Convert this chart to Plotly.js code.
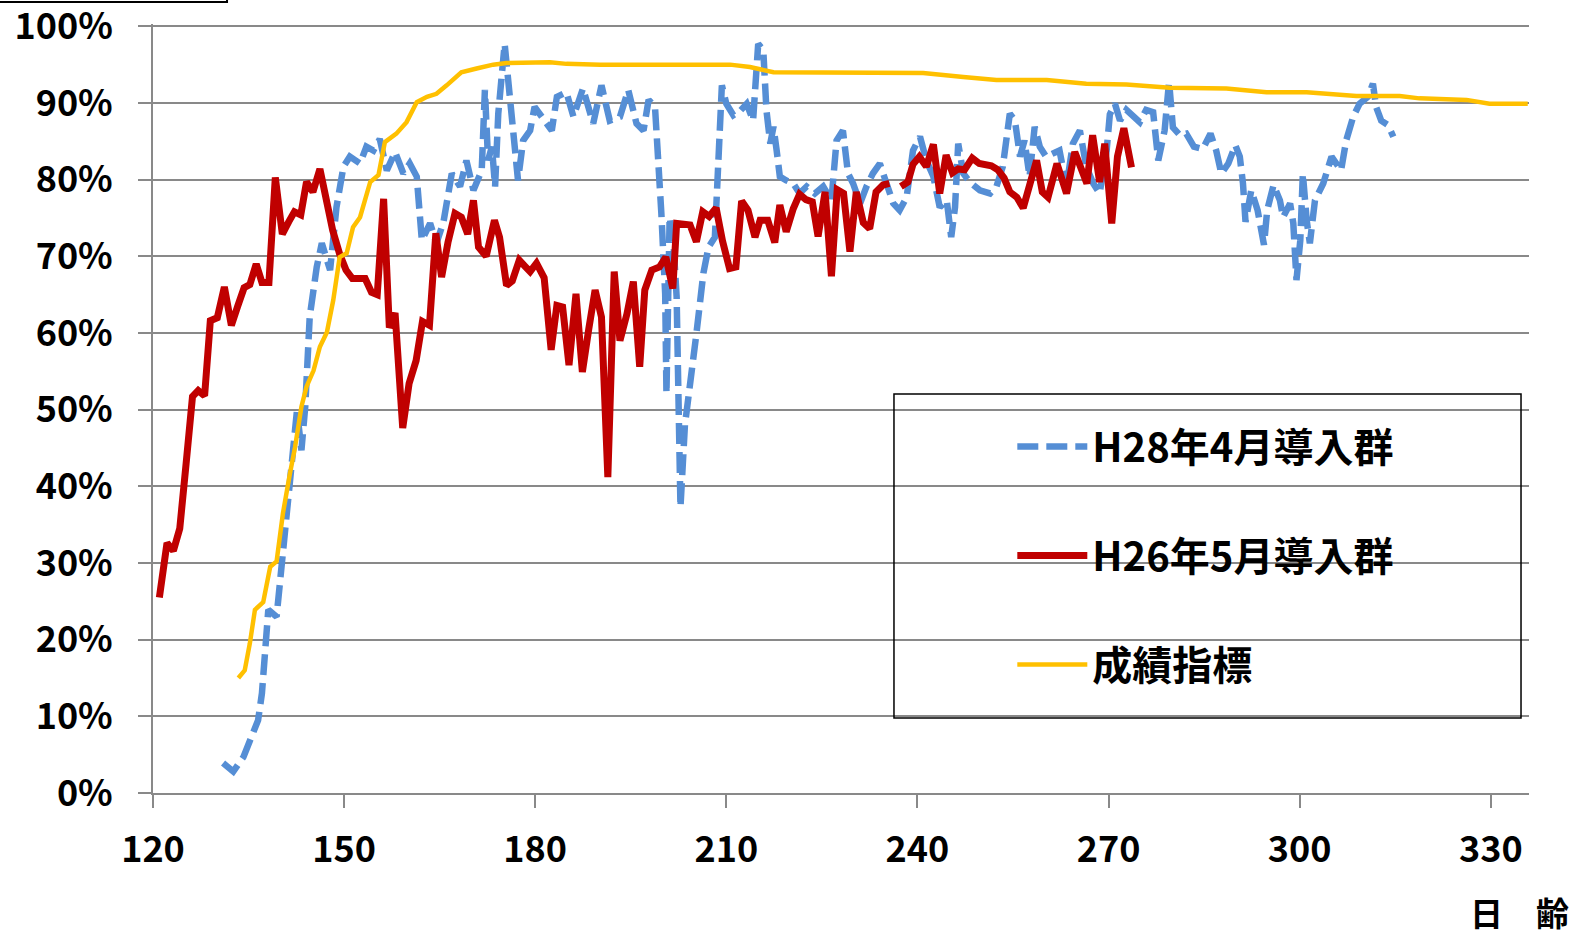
<!DOCTYPE html>
<html>
<head>
<meta charset="utf-8">
<script src="https://cdn.plot.ly/plotly-3.0.1.min.js"></script>
<style>html,body{margin:0;padding:0;background:#fff}#chart{width:1585px;height:937px}</style>
</head>
<body>
<div id="chart"></div>
<script>
// ---- data ----
const seriesNames = ["H28年4月導入群", "H26年5月導入群", "成績指標"];

const h28Days = [131.0,132.6,134.2,135.7,136.5,137.1,137.8,138.1,139.4,140.2,141.2,142.0,142.6,143.3,143.9,144.6,145.7,146.5,147.8,148.8,149.9,150.9,152.5,153.5,154.6,155.6,156.7,158.0,159.3,160.3,161.4,162.2,163.5,164.5,165.6,166.9,168.2,169.2,170.3,171.6,172.1,172.6,173.2,173.7,174.2,175.2,176.0,176.8,177.3,178.1,179.2,179.9,181.3,182.6,183.4,184.9,186.0,187.5,189.1,190.4,191.7,193.3,194.6,195.9,197.0,197.8,198.8,199.3,199.8,200.4,200.6,201.1,201.7,202.2,202.4,202.8,203.5,204.3,205.3,206.4,207.2,208.2,208.7,209.3,210.0,211.1,212.2,213.2,214.2,215.0,215.8,216.3,216.9,217.4,217.9,218.4,219.4,220.5,221.5,222.6,223.9,225.2,226.5,227.3,228.3,229.1,229.9,231.0,232.0,233.0,234.1,235.1,236.2,237.2,238.3,239.3,240.4,241.4,242.5,243.5,244.6,245.3,245.9,246.4,247.2,248.2,249.8,251.4,252.4,253.4,254.5,255.3,256.1,256.8,257.6,258.4,259.2,260.2,261.3,262.3,263.4,264.4,265.5,266.5,267.6,268.6,269.7,270.2,271.0,271.8,272.8,273.8,274.9,275.9,277.0,277.8,278.8,279.5,280.1,281.2,282.2,283.4,284.8,286.0,286.9,287.7,288.8,289.9,290.6,291.1,291.5,292.4,293.4,294.4,294.9,295.9,296.9,297.4,298.5,299.0,299.5,300.1,300.5,301.1,301.6,302.4,303.7,305.0,306.5,307.3,308.4,309.4,310.7,311.5,312.0,312.8,313.9,314.7];
const h28Rate = [3.9,2.8,4.7,7.8,9.5,13.0,20.8,23.9,23.0,29.5,36.5,43.8,49.9,44.7,50.4,62.1,68.6,71.7,68.2,76.4,81.7,83.0,82.1,84.3,83.8,85.3,81.2,83.6,80.8,82.1,80.4,72.1,74.3,71.7,74.5,80.8,79.1,82.5,78.6,81.2,91.7,82.5,84.3,79.1,88.6,97.7,90.8,85.1,79.9,85.1,86.4,89.5,87.7,86.4,90.8,91.4,88.2,91.9,87.3,92.3,87.7,88.2,91.7,87.3,86.4,90.4,89.5,83.8,75.6,65.1,52.1,75.1,71.7,64.7,56.0,37.3,48.0,53.0,59.9,67.8,71.2,72.5,81.7,92.3,89.9,88.4,89.0,89.9,87.7,97.7,96.9,89.0,84.7,86.9,83.8,80.4,79.9,79.5,78.2,79.1,78.2,79.1,77.3,85.1,86.4,80.8,79.5,76.9,79.1,80.8,82.1,79.9,76.9,76.0,77.7,83.8,85.6,82.5,80.4,76.4,77.3,72.5,76.4,84.7,80.8,79.7,78.6,78.2,79.1,81.7,88.6,87.7,83.0,85.1,80.4,86.9,84.3,83.0,83.4,83.8,79.1,84.7,86.4,81.7,79.5,78.2,83.8,88.5,89.9,87.7,89.1,88.2,87.5,89.1,88.8,82.5,86.4,92.8,86.8,85.8,86.0,84.3,84.0,86.0,83.8,80.8,82.1,84.5,83.0,79.5,74.5,78.6,76.0,71.5,76.0,79.3,77.3,75.1,76.9,74.3,66.9,72.1,80.8,74.7,71.7,77.3,79.5,83.0,81.2,85.1,88.2,89.9,90.8,92.5,89.5,87.7,87.1,85.6];

const h26Days = [121.0,122.2,123.2,124.2,125.2,126.2,127.1,128.1,129.0,130.1,131.2,132.3,133.3,134.3,135.2,136.2,137.1,138.2,139.2,140.3,141.3,142.2,143.2,144.1,145.1,146.2,147.1,148.2,149.3,150.3,151.3,152.4,153.3,154.3,155.2,156.2,157.1,158.0,159.2,160.2,161.3,162.3,163.4,164.4,165.3,166.3,167.4,168.4,169.4,170.3,171.1,172.3,173.6,174.4,175.5,176.4,177.5,178.4,179.2,180.2,181.4,182.5,183.4,184.3,185.3,186.4,187.4,188.4,189.4,190.4,191.4,192.4,193.3,194.4,195.4,196.4,197.2,198.3,199.5,200.5,201.6,202.2,203.2,204.3,205.3,206.3,207.3,208.4,209.4,210.5,211.5,212.4,213.4,214.5,215.3,216.5,217.6,218.4,219.4,220.5,221.5,222.5,223.5,224.4,225.5,226.5,227.4,228.4,229.4,230.4,231.5,232.5,233.5,234.6,235.6,236.5,237.4,238.5,239.3,240.3,241.4,242.5,243.5,244.5,245.5,246.4,247.4,248.6,249.7,250.7,251.6,252.6,253.6,254.5,255.6,256.6,257.6,258.7,259.6,260.5,261.9,263.4,264.7,265.6,266.6,267.5,268.6,269.4,270.5,271.4,272.4,273.6];
const h26Rate = [25.5,32.6,31.6,34.5,43.0,51.7,52.5,51.8,61.6,62.0,66.0,61.0,63.5,65.9,66.3,69.0,66.6,66.6,80.3,72.9,74.5,75.8,75.4,79.7,78.4,81.4,77.8,73.4,70.3,68.2,67.1,67.0,67.1,65.3,65.0,77.5,60.7,62.6,47.6,53.4,56.4,61.5,61.0,73.0,67.3,71.8,75.6,75.1,72.9,77.3,71.2,70.0,74.7,72.5,66.2,66.8,69.5,68.7,68.0,69.1,67.2,57.8,63.6,63.4,55.8,65.1,54.9,60.5,65.6,62.1,41.2,68.0,59.0,62.5,66.7,55.6,65.6,68.2,68.6,69.9,65.8,74.3,74.3,74.1,71.9,75.8,75.2,76.3,72.0,68.4,68.6,77.2,76.0,72.5,74.7,74.7,71.8,76.7,73.2,76.2,78.1,77.4,77.1,72.6,78.4,67.4,78.7,78.2,70.6,78.4,74.4,73.6,78.4,79.3,79.5,null,79.1,79.7,82.0,83.0,81.7,84.6,78.2,83.2,80.9,81.4,81.3,82.8,82.1,82.0,81.8,81.3,80.2,78.4,77.7,76.3,79.4,82.5,78.4,77.7,82.1,78.2,83.6,81.5,79.5,85.8,79.7,84.7,74.3,83.0,86.7,81.6];

const stdDays = [133.4,134.4,135.2,136.0,137.3,138.4,139.4,140.4,141.5,142.3,143.3,144.1,145.2,146.2,147.3,148.3,149.3,150.4,151.4,152.5,154.1,155.4,156.4,158.2,159.8,161.4,163.0,164.5,166.1,167.1,168.4,170.8,173.4,175.5,180.7,182.3,184.9,190.2,210.6,213.7,217.4,234.1,240.9,247.2,252.4,260.3,266.5,272.8,279.6,288.5,294.8,301.1,305.3,308.9,315.7,318.8,326.2,329.8,335.8];
const stdRate = [15.0,16.0,19.5,23.9,24.9,29.5,30.2,36.5,41.7,45.1,50.4,53.0,55.1,58.2,60.1,64.3,69.9,70.4,73.8,75.1,79.7,80.6,84.9,86.0,87.5,90.1,90.8,91.2,92.3,93.0,94.0,94.5,95.0,95.2,95.2,95.3,95.1,95.0,95.0,94.7,94.0,94.0,93.9,93.4,93.0,93.0,92.5,92.4,92.0,91.9,91.4,91.4,91.2,90.9,90.9,90.6,90.4,89.9,89.9];

const xTicks = [120,150,180,210,240,270,300,330];
const yTicks = [0,10,20,30,40,50,60,70,80,90,100];
const xTitle = "日　齢";

// ---- chart ----
const JP = '"Noto Sans CJK JP", "Noto Sans", sans-serif';
const traces = [
  {x: h28Days, y: h28Rate, name: seriesNames[0], type: 'scatter', mode: 'lines', legendgroup: 'a',
   line: {color: '#558ED5', width: 6.5, dash: '21px,8px'}},
  {x: h26Days, y: h26Rate, name: seriesNames[1], type: 'scatter', mode: 'lines', legendgroup: 'b',
   connectgaps: false, line: {color: '#C00000', width: 7}},
  {x: stdDays, y: stdRate, name: seriesNames[2], type: 'scatter', mode: 'lines', legendgroup: 'c',
   line: {color: '#FFC000', width: 4.5}}
];

const layout = {
  width: 1585, height: 937,
  margin: {l: 153, r: 56, t: 24, b: 144},
  paper_bgcolor: '#fff', plot_bgcolor: '#fff',
  font: {family: JP, color: '#000'},
  showlegend: true,
  legend: {
    x: 0.6245, xanchor: 'left', y: 0.493, yanchor: 'top',
    font: {family: JP, size: 40, weight: 'bold', color: '#000'},
    itemwidth: 70, tracegroupgap: 54, bgcolor: 'rgba(0,0,0,0)', borderwidth: 0,
    traceorder: 'grouped'
  },
  xaxis: {
    range: [120, 336], tickvals: xTicks, ticktext: xTicks.map(String),
    showgrid: false, zeroline: false,
    showline: true, linecolor: '#898989', linewidth: 2,
    ticks: 'outside', ticklen: 13, tickwidth: 2, tickcolor: '#898989',
    ticklabelstandoff: 11, ticklabeloverflow: 'allow',
    tickfont: {family: JP, size: 36, weight: 'bold', color: '#000'}
  },
  yaxis: {
    range: [0, 100.3], tickvals: yTicks, ticktext: yTicks.map(v => v + '%'),
    showgrid: true, gridcolor: '#898989', gridwidth: 2, zeroline: false,
    showline: true, linecolor: '#898989', linewidth: 2,
    ticks: 'outside', ticklen: 13, tickwidth: 2, tickcolor: '#898989',
    ticklabelstandoff: 18, ticklabeloverflow: 'allow',
    tickfont: {family: JP, size: 36, weight: 'bold', color: '#000'}
  },
  shapes: [
    {type: 'rect', xref: 'paper', yref: 'paper', x0: 0.5385, x1: 0.9942, y0: 0.0975, y1: 0.5189,
     line: {color: '#000', width: 1.5}, fillcolor: 'rgba(0,0,0,0)', layer: 'above'},
    {type: 'rect', xref: 'paper', yref: 'paper', x0: -0.115, x1: 0.0538, y0: 1.0286, y1: 1.06,
     line: {color: '#000', width: 2}, fillcolor: 'rgba(0,0,0,0)', layer: 'above'}
  ],
  annotations: [
    {xref: 'paper', yref: 'paper', x: 1.0305, y: -0.155, xanchor: 'right', yanchor: 'middle',
     text: xTitle, showarrow: false, font: {family: JP, size: 33, weight: 'bold', color: '#000'}}
  ]
};

Plotly.newPlot('chart', traces, layout, {displayModeBar: false, staticPlot: true});
</script>
</body>
</html>
